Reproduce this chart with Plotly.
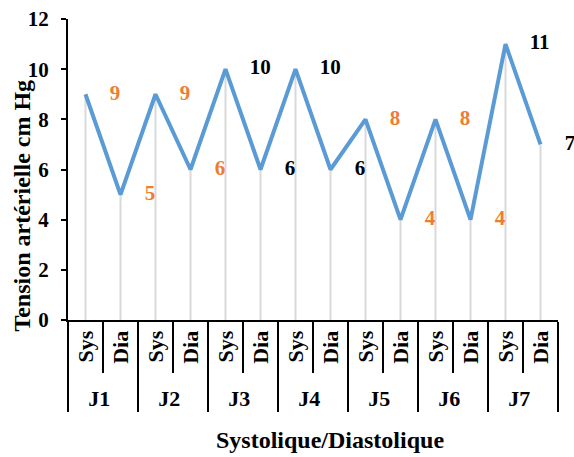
import plotly.graph_objects as go

jours = ["J1", "J2", "J3", "J4", "J5", "J6", "J7"]
mesures = ["Sys", "Dia"]
tension = [9, 5, 9, 6, 10, 6, 10, 6, 8, 4, 8, 4, 11, 7]
label_colors = ["#ED7D31", "#ED7D31", "#ED7D31", "#ED7D31", "black", "black", "black", "black",
                "#ED7D31", "#ED7D31", "#ED7D31", "#ED7D31", "black", "black"]

outer = [j for j in jours for m in mesures]
inner = [m for j in jours for m in mesures]
x = [outer, inner]

font = "Liberation Serif"

fig = go.Figure()

# drop lines down to the axis
fig.add_trace(go.Scatter(
    x=x, y=tension, mode="markers", marker=dict(size=0.1, opacity=0),
    error_y=dict(type="data", symmetric=False, array=[0] * len(tension), arrayminus=tension,
                 width=0, color="#d9d9d9", thickness=2),
    hoverinfo="skip", showlegend=False))

fig.add_trace(go.Scatter(
    x=x, y=tension, mode="lines", line=dict(color="#5B9BD5", width=4),
    showlegend=False))

# data labels to the right of each point (invisible big marker pushes the text out)
fig.add_trace(go.Scatter(
    x=x, y=tension, mode="markers+text", text=[str(v) for v in tension],
    textposition="middle right", cliponaxis=False,
    marker=dict(size=37, opacity=0),
    textfont=dict(family=font, size=21, color=label_colors, weight="bold"),
    hoverinfo="skip", showlegend=False))

# axis titles (off-centre in the original, so annotations)
fig.add_annotation(text="Tension artérielle cm Hg", xref="paper", yref="paper",
                   x=0, y=0.38, xshift=-46, xanchor="center", yanchor="middle",
                   textangle=-90, showarrow=False,
                   font=dict(family=font, size=24, weight="bold"))
fig.add_annotation(text="Systolique/Diastolique", xref="paper", yref="paper",
                   x=0.535, y=0, yshift=-120, xanchor="center", yanchor="middle",
                   showarrow=False,
                   font=dict(family=font, size=24, weight="bold"))

fig.update_layout(
    width=574, height=457,
    margin=dict(l=68, r=16, t=19, b=137),
    plot_bgcolor="white", paper_bgcolor="white",
    font=dict(family=font, color="black"),
)
fig.update_xaxes(
    type="multicategory", range=[-0.5, 13.5], automargin=False,
    showline=True, linecolor="black", linewidth=2,
    ticks="outside", tickson="boundaries", ticklen=51, tickcolor="black", tickwidth=2,
    showdividers=True, dividercolor="black", dividerwidth=2,
    tickangle=-90, tickfont=dict(family=font, size=22, weight="bold"),
    showgrid=False,
)
fig.update_yaxes(
    range=[0, 12], dtick=2, automargin=False, showline=True, linecolor="black", linewidth=2,
    ticks="outside", ticklen=5, tickcolor="black", tickwidth=2, showgrid=False, zeroline=False,
    ticklabelstandoff=8, ticklabeloverflow="allow",
    tickfont=dict(family=font, size=21, weight="bold"),
)

# drop the default 8px page margin so the figure fills the window exactly
fig.write_html("out.html", config={"displayModeBar": False},
               post_script="document.body.style.margin='0';document.body.style.overflow='hidden';")
